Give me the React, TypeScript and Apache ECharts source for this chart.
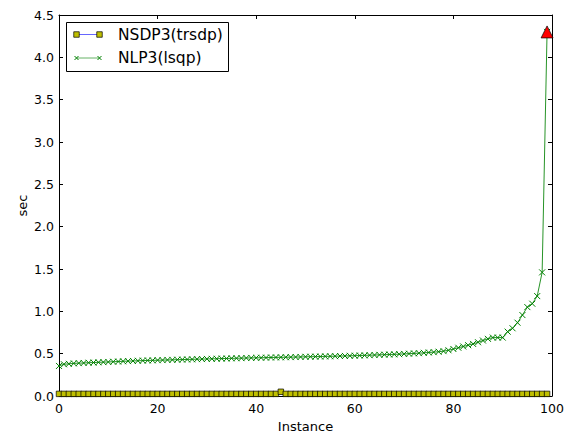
import React, { useEffect, useRef } from "react";
import * as echarts from "echarts";

const instances: number[] = [
  0, 1, 2, 3, 4, 5, 6, 7, 8, 9, 10, 11, 12, 13, 14, 15, 16, 17, 18, 19,
  20, 21, 22, 23, 24, 25, 26, 27, 28, 29, 30, 31, 32, 33, 34, 35, 36, 37, 38, 39,
  40, 41, 42, 43, 44, 45, 46, 47, 48, 49, 50, 51, 52, 53, 54, 55, 56, 57, 58, 59,
  60, 61, 62, 63, 64, 65, 66, 67, 68, 69, 70, 71, 72, 73, 74, 75, 76, 77, 78, 79,
  80, 81, 82, 83, 84, 85, 86, 87, 88, 89, 90, 91, 92, 93, 94, 95, 96, 97, 98, 99,
];

const nsdp3: number[] = [
  0.025, 0.025, 0.025, 0.025, 0.025, 0.025, 0.025, 0.025, 0.025, 0.025,
  0.025, 0.025, 0.025, 0.025, 0.025, 0.025, 0.025, 0.025, 0.025, 0.025,
  0.025, 0.025, 0.025, 0.025, 0.025, 0.025, 0.025, 0.025, 0.025, 0.025,
  0.025, 0.025, 0.025, 0.025, 0.025, 0.025, 0.025, 0.025, 0.025, 0.025,
  0.025, 0.025, 0.025, 0.025, 0.025, 0.05, 0.025, 0.025, 0.025, 0.025,
  0.025, 0.025, 0.025, 0.025, 0.025, 0.025, 0.025, 0.025, 0.025, 0.025,
  0.025, 0.025, 0.025, 0.025, 0.025, 0.025, 0.025, 0.025, 0.025, 0.025,
  0.025, 0.025, 0.025, 0.025, 0.025, 0.025, 0.025, 0.025, 0.025, 0.025,
  0.025, 0.025, 0.025, 0.025, 0.025, 0.025, 0.025, 0.025, 0.025, 0.025,
  0.025, 0.025, 0.025, 0.025, 0.025, 0.025, 0.025, 0.025, 0.025, 0.025,
];

const nlp3: number[] = [
  0.355, 0.375, 0.38, 0.385, 0.388, 0.39, 0.393, 0.395, 0.398, 0.4,
  0.402, 0.405, 0.407, 0.41, 0.412, 0.414, 0.416, 0.418, 0.42, 0.421,
  0.423, 0.424, 0.426, 0.427, 0.429, 0.43, 0.432, 0.433, 0.435, 0.436,
  0.438, 0.439, 0.44, 0.442, 0.443, 0.445, 0.446, 0.447, 0.449, 0.45,
  0.451, 0.452, 0.453, 0.455, 0.456, 0.457, 0.458, 0.459, 0.46, 0.461,
  0.463, 0.464, 0.465, 0.466, 0.468, 0.469, 0.47, 0.472, 0.473, 0.475,
  0.476, 0.478, 0.48, 0.482, 0.484, 0.486, 0.488, 0.49, 0.492, 0.494,
  0.497, 0.5, 0.503, 0.506, 0.51, 0.514, 0.518, 0.523, 0.53, 0.54,
  0.555, 0.57, 0.585, 0.6, 0.615, 0.635, 0.655, 0.675, 0.69, 0.69,
  0.69, 0.76, 0.8, 0.866, 0.956, 1.05, 1.09, 1.18, 1.46, 4.3,
];

const maxPoint: number[][] = [[99, 4.3]];

const FONT = "DejaVu Sans";

export default function App() {
  const ref = useRef<HTMLDivElement>(null);
  useEffect(() => {
    if (!ref.current) return;
    document.body.style.margin = "0";
    const chart = echarts.init(ref.current, null, { renderer: "svg", width: 573, height: 434 });
    const tickCommon = { inside: true, length: 4, lineStyle: { color: "#000", width: 1 } };
    const lineCommon = { show: true, onZero: false, lineStyle: { color: "#000", width: 1 } };
    const xMarker = "path://M0,0L10,10M10,0L0,10";
    const option: any = {
      animation: false,
      backgroundColor: "#fff",
      grid: { left: 59, right: 21, top: 15, bottom: 38, containLabel: false, outerBoundsMode: "none" },
      xAxis: [
        {
          type: "value", min: 0, max: 100, interval: 20, position: "bottom",
          name: "Instance", nameLocation: "middle", nameGap: 24, nameMoveOverlap: false,
          nameTextStyle: { fontFamily: FONT, fontSize: 13, color: "#000" },
          axisLine: lineCommon, axisTick: tickCommon, splitLine: { show: false },
          axisLabel: { fontFamily: FONT, fontSize: 12.5, color: "#000", margin: 6 },
        },
        {
          type: "value", min: 0, max: 100, interval: 20, position: "top",
          axisLine: lineCommon, axisTick: tickCommon, splitLine: { show: false },
          axisLabel: { show: false },
        },
      ],
      yAxis: [
        {
          type: "value", min: 0, max: 4.5, interval: 0.5, position: "left",
          name: "sec", nameLocation: "middle", nameGap: 30, nameRotate: 90, nameMoveOverlap: false,
          nameTextStyle: { fontFamily: FONT, fontSize: 13, color: "#000" },
          axisLine: lineCommon, axisTick: tickCommon, splitLine: { show: false },
          axisLabel: {
            fontFamily: FONT, fontSize: 12.5, color: "#000", margin: 5,
            formatter: (v: number) => v.toFixed(1),
          },
        },
        {
          type: "value", min: 0, max: 4.5, interval: 0.5, position: "right",
          axisLine: lineCommon, axisTick: tickCommon, splitLine: { show: false },
          axisLabel: { show: false },
        },
      ],
      series: [
        {
          name: "NSDP3(trsdp)", type: "line",
          data: instances.map((x, i) => [x, nsdp3[i]]),
          lineStyle: { color: "#0000ff", width: 1, opacity: 0.6 },
          symbol: "rect", symbolSize: 5.5, showAllSymbol: true,
          itemStyle: { color: "#bfbf00", borderColor: "#000", borderWidth: 0.7 },
          z: 2,
        },
        {
          name: "NLP3(lsqp)", type: "line",
          data: instances.map((x, i) => [x, nlp3[i]]),
          lineStyle: { color: "#008000", width: 1, opacity: 0.85 },
          symbol: xMarker, symbolSize: 6, showAllSymbol: true,
          itemStyle: { color: "rgba(0,128,0,0.3)", borderColor: "#008000", borderWidth: 1 },
          z: 3,
        },
        {
          name: "max", type: "scatter", data: maxPoint,
          symbol: "triangle", symbolSize: 12,
          itemStyle: { color: "#ff0000", borderColor: "#000", borderWidth: 0.7, opacity: 1 },
          z: 4,
        },
      ],
      graphic: [
        {
          type: "group", z: 100,
          children: [
            { type: "rect", shape: { x: 66.5, y: 22.5, width: 162, height: 49 },
              style: { fill: "#fff", stroke: "#000", lineWidth: 1 } },
            { type: "line", shape: { x1: 76.5, y1: 34.5, x2: 99.5, y2: 34.5 },
              style: { stroke: "rgba(0,0,255,0.6)", lineWidth: 1 } },
            { type: "rect", shape: { x: 73.75, y: 31.75, width: 5.5, height: 5.5 },
              style: { fill: "#bfbf00", stroke: "#000", lineWidth: 0.7 } },
            { type: "rect", shape: { x: 96.75, y: 31.75, width: 5.5, height: 5.5 },
              style: { fill: "#bfbf00", stroke: "#000", lineWidth: 0.7 } },
            { type: "text", x: 118, y: 34.5,
              style: { text: "NSDP3(trsdp)", fontFamily: FONT, fontSize: 15.5, fill: "#000", verticalAlign: "middle" } },
            { type: "line", shape: { x1: 76.5, y1: 58, x2: 99.5, y2: 58 },
              style: { stroke: "rgba(0,128,0,0.6)", lineWidth: 1 } },
            { type: "line", shape: { x1: 74.5, y1: 56, x2: 78.5, y2: 60 }, style: { stroke: "#008000", lineWidth: 1 } },
            { type: "line", shape: { x1: 78.5, y1: 56, x2: 74.5, y2: 60 }, style: { stroke: "#008000", lineWidth: 1 } },
            { type: "line", shape: { x1: 97.5, y1: 56, x2: 101.5, y2: 60 }, style: { stroke: "#008000", lineWidth: 1 } },
            { type: "line", shape: { x1: 101.5, y1: 56, x2: 97.5, y2: 60 }, style: { stroke: "#008000", lineWidth: 1 } },
            { type: "text", x: 118, y: 58,
              style: { text: "NLP3(lsqp)", fontFamily: FONT, fontSize: 15.5, fill: "#000", verticalAlign: "middle" } },
          ],
        },
      ],
    };
    chart.setOption(option);
    return () => chart.dispose();
  }, []);
  return (
    <div
      ref={ref}
      style={{ position: "fixed", left: 0, top: 0, width: 573, height: 434, background: "#fff" }}
    />
  );
}
